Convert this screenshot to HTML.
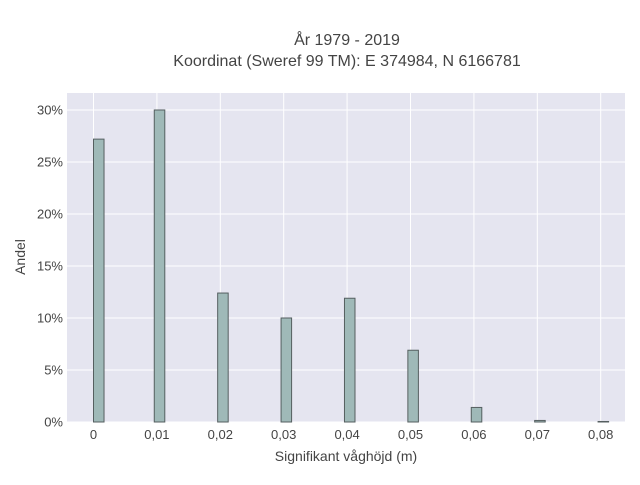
<!DOCTYPE html>
<html><head><meta charset="utf-8"><style>
body{margin:0;background:#fff;font-family:"Liberation Sans",sans-serif}
svg text{font-family:"Liberation Sans",sans-serif;fill:#444}
</style></head><body>
<svg width="640" height="480">
<rect x="0" y="0" width="640" height="480" fill="#fff"/>
<text x="347" y="45" text-anchor="middle" font-size="16">År 1979 - 2019</text>
<text x="347" y="66" text-anchor="middle" font-size="16">Koordinat (Sweref 99 TM): E 374984, N 6166781</text>
<rect x="67" y="93" width="558" height="329" fill="#e5e5f0"/>
<g id="grid"></g><g id="bars"></g><g id="labels"></g>
<text x="346" y="461" text-anchor="middle" font-size="14">Signifikant våghöjd (m)</text>
<text transform="translate(25,257) rotate(-90)" text-anchor="middle" font-size="14">Andel</text>
</svg>
<script>
const categories=[0,0.01,0.02,0.03,0.04,0.05,0.06,0.07,0.08];
const values=[27.2,30.0,12.4,10.0,11.9,6.9,1.4,0.15,0.05];
const xTicks=[0,0.01,0.02,0.03,0.04,0.05,0.06,0.07,0.08];
const xTickLabels=["0","0,01","0,02","0,03","0,04","0,05","0,06","0,07","0,08"];
const yTicks=[0,5,10,15,20,25,30];
const NS="http://www.w3.org/2000/svg";
const X=v=>93.5+v*6340, Y=v=>422-v*10.4;
function mk(t,a,p){const e=document.createElementNS(NS,t);for(const k in a)e.setAttribute(k,a[k]);document.getElementById(p).appendChild(e);return e;}
xTicks.forEach((t,i)=>{
 const g=mk('line',{x1:X(t),x2:X(t),y1:93,y2:422,stroke:'#fff','stroke-width':1},'grid');
 
 
 const l=mk('text',{x:X(t),y:439,'text-anchor':'middle','font-size':13},'labels');l.textContent=xTickLabels[i];
 
 
});
yTicks.forEach(t=>{
 const g=mk('line',{x1:67,x2:625,y1:Y(t),y2:Y(t),stroke:'#fff','stroke-width':1},'grid');
 
 
 const l=mk('text',{x:63,y:Y(t)+4.5,'text-anchor':'end','font-size':13},'labels');l.textContent=t+'%';
 
 
});
const w=0.00166;
categories.forEach((c,i)=>{
 const x0=Math.max(c-w*0.25,0);
 const b=mk('rect',{x:X(x0),y:Y(values[i]),width:w*6340,height:Math.max(Y(0)-Y(values[i]),0.5),fill:'#9fb9b8',stroke:'#555f60','stroke-width':1},'bars');
 
 
});
</script>
</body></html>
